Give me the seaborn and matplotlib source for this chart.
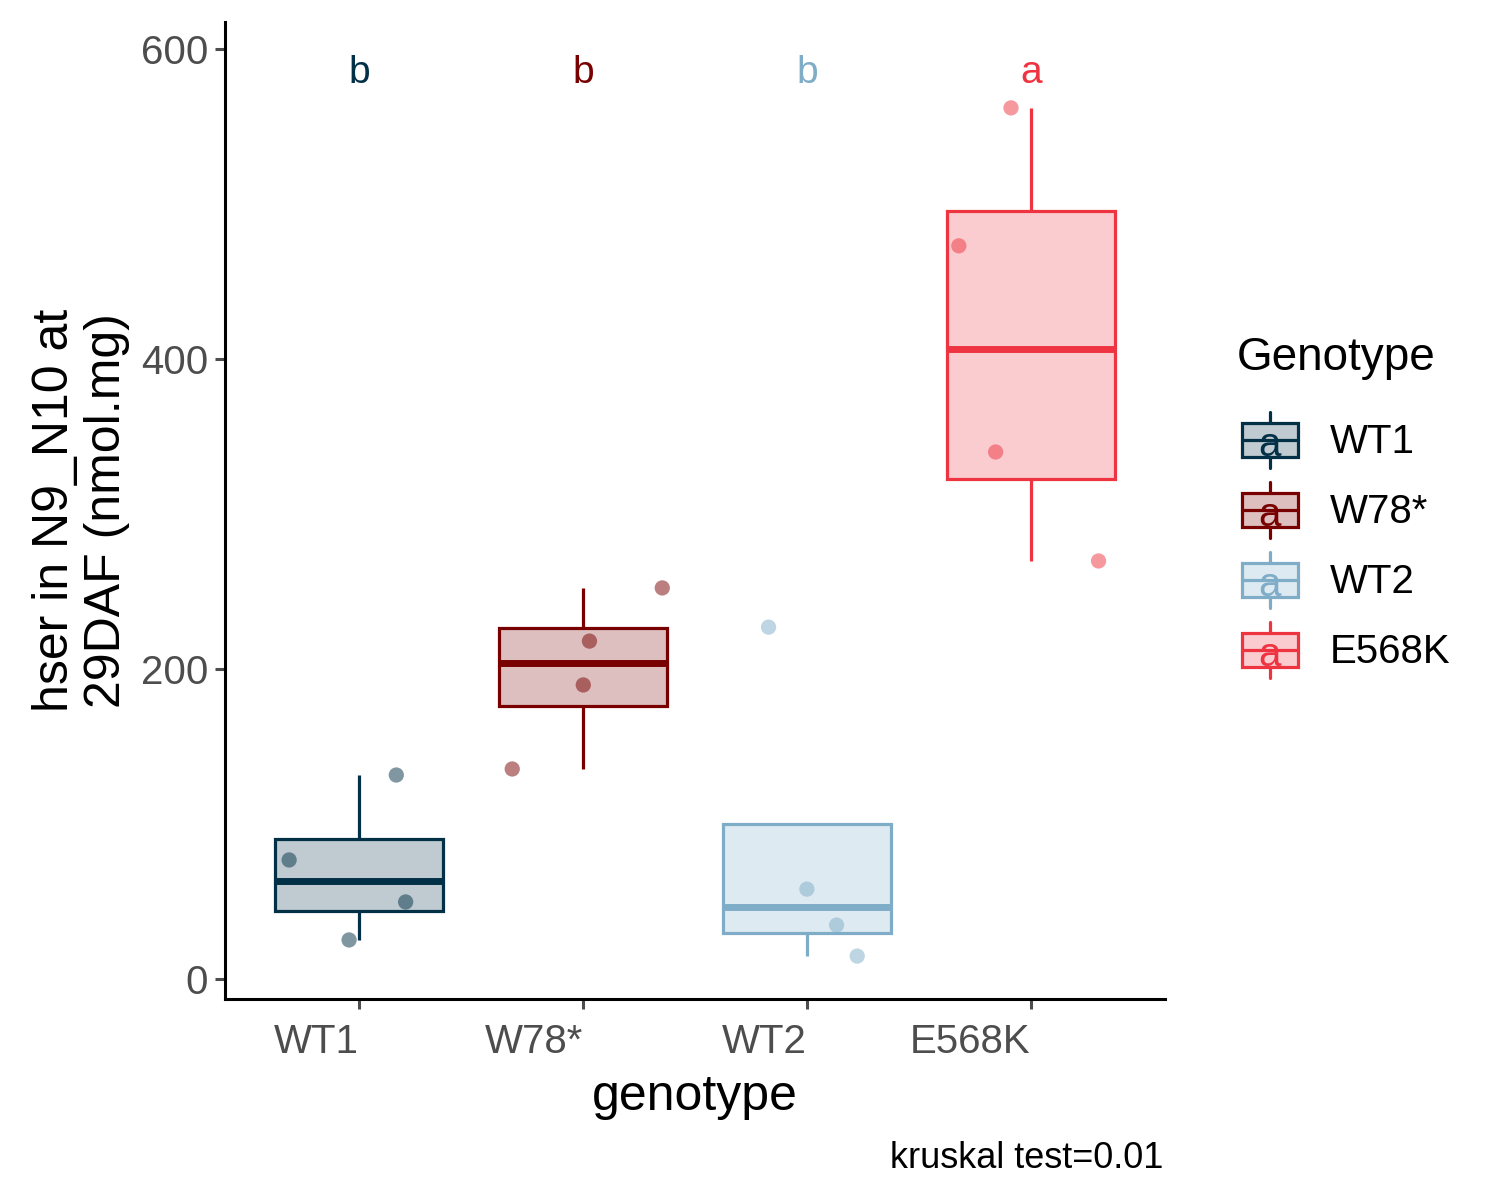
import matplotlib
matplotlib.use("Agg")
import matplotlib.pyplot as plt
import seaborn as sns
import numpy as np
import pandas as pd
from matplotlib.legend_handler import HandlerBase
from matplotlib.patches import Rectangle, Patch
from matplotlib.lines import Line2D
from matplotlib.text import Text

# Data
genotypes = ["WT1", "W78*", "WT2", "E568K"]
wt1_vals = [76.8, 49.7, 25.2, 131.6]
w78_vals = [252.3, 218.0, 189.7, 135.5]
wt2_vals = [227.0, 58.0, 34.8, 14.8]
e568k_vals = [562.0, 473.0, 340.0, 269.7]
sig_letters = ["b", "b", "b", "a"]
colors = ["#023047", "#780000", "#7FADC8", "#EE3441"]

df = pd.DataFrame({
    "genotype": np.repeat(genotypes, 4),
    "value": wt1_vals + w78_vals + wt2_vals + e568k_vals,
})
palette = dict(zip(genotypes, colors))

sns.set_style("white")
plt.rcParams["font.family"] = ["Liberation Sans", "DejaVu Sans"]
plt.rcParams["text.color"] = "black"
plt.rcParams["axes.labelcolor"] = "black"

fig = plt.figure(figsize=(15, 12), dpi=100)
ax = fig.add_axes([225 / 1500, 1 - 999 / 1200, 940 / 1500, 977 / 1200])

# Boxplots (outliers hidden, points drawn separately)
sns.boxplot(data=df, x="genotype", y="value", hue="genotype", palette=palette,
            order=genotypes, hue_order=genotypes, fill=True, saturation=1,
            width=0.75, showfliers=False, showcaps=False, linewidth=2.3,
            medianprops=dict(linewidth=5), legend=False, ax=ax)
# ggplot look: coloured outline, translucent fill
for p in ax.patches:
    fc = p.get_facecolor()
    p.set_edgecolor((fc[0], fc[1], fc[2], 1))
    p.set_facecolor((fc[0], fc[1], fc[2], 0.25))
for ln in ax.lines:
    xd = np.asarray(ln.get_xdata(), dtype=float)
    if len(xd):
        ln.set_color(colors[int(round(xd.mean()))])

# Jittered points
np.random.seed(7)
sns.stripplot(data=df, x="genotype", y="value", hue="genotype", palette=palette,
              order=genotypes, hue_order=genotypes, jitter=0.37, size=11,
              alpha=0.5, linewidth=0, legend=False, zorder=3, ax=ax)

# Significance letters
for i, (lab, c) in enumerate(zip(sig_letters, colors)):
    ax.text(i, 578, lab, color=c, fontsize=28, ha="center", va="baseline")

ax.set_xlim(-0.6, 3.6)
ax.set_ylim(-12.9, 617.4)
ax.set_yticks([0, 200, 400, 600])
ax.set_xlabel("genotype", fontsize=36, labelpad=10)
ax.set_ylabel("hser in N9_N10 at\n29DAF (nmol.mg)", fontsize=36, labelpad=8,
              linespacing=1.15)
ax.tick_params(axis="both", labelsize=29, colors="#4D4D4D", length=7, width=2.2,
               pad=5, left=True, bottom=True)
ax.tick_params(axis="x", pad=10)
for lbl in ax.get_xticklabels():
    lbl.set_ha("right")
sns.despine(ax=ax)
for s in ["left", "bottom"]:
    ax.spines[s].set_linewidth(2.2)
    ax.spines[s].set_color("black")


# Legend keys: mini boxplot with an "a"
class BoxKeyHandler(HandlerBase):
    def create_artists(self, legend, orig_handle, xdescent, ydescent,
                       width, height, fontsize, trans):
        c = orig_handle.get_edgecolor()
        x0, y0 = -xdescent, -ydescent
        bh = height * 0.62
        by = y0 + (height - bh) / 2
        xm = x0 + width / 2
        box = Rectangle((x0, by), width, bh, facecolor=(c[0], c[1], c[2], 0.25),
                        edgecolor=c, linewidth=2.3, transform=trans)
        med = Line2D([x0, x0 + width], [y0 + height / 2] * 2, color=c, lw=2.3,
                     transform=trans)
        wl = Line2D([xm, xm], [y0, by], color=c, lw=2.3, transform=trans)
        wh = Line2D([xm, xm], [by + bh, y0 + height], color=c, lw=2.3,
                    transform=trans)
        txt = Text(xm, by + 1, "a", color=c, fontsize=29,
                   ha="center", va="baseline", transform=trans)
        return [wl, wh, box, med, txt]


handles = [Patch(edgecolor=c, facecolor="none") for c in colors]
fig.legend(handles, genotypes, loc="center left",
           bbox_to_anchor=(1242 / 1500, 1 - 545 / 1200), frameon=False,
           handler_map={Patch: BoxKeyHandler()}, fontsize=29,
           handlelength=1.38, handleheight=1.76, labelspacing=0.35,
           handletextpad=0.8, borderpad=0, borderaxespad=0)
fig.text(1237 / 1500, 1 - 358 / 1200, "Genotype", fontsize=33,
         ha="left", va="center")

fig.text(1163 / 1500, 1 - 1158 / 1200, "kruskal test=0.01", fontsize=26,
         ha="right", va="center")

fig.savefig("out.png", dpi=100)
